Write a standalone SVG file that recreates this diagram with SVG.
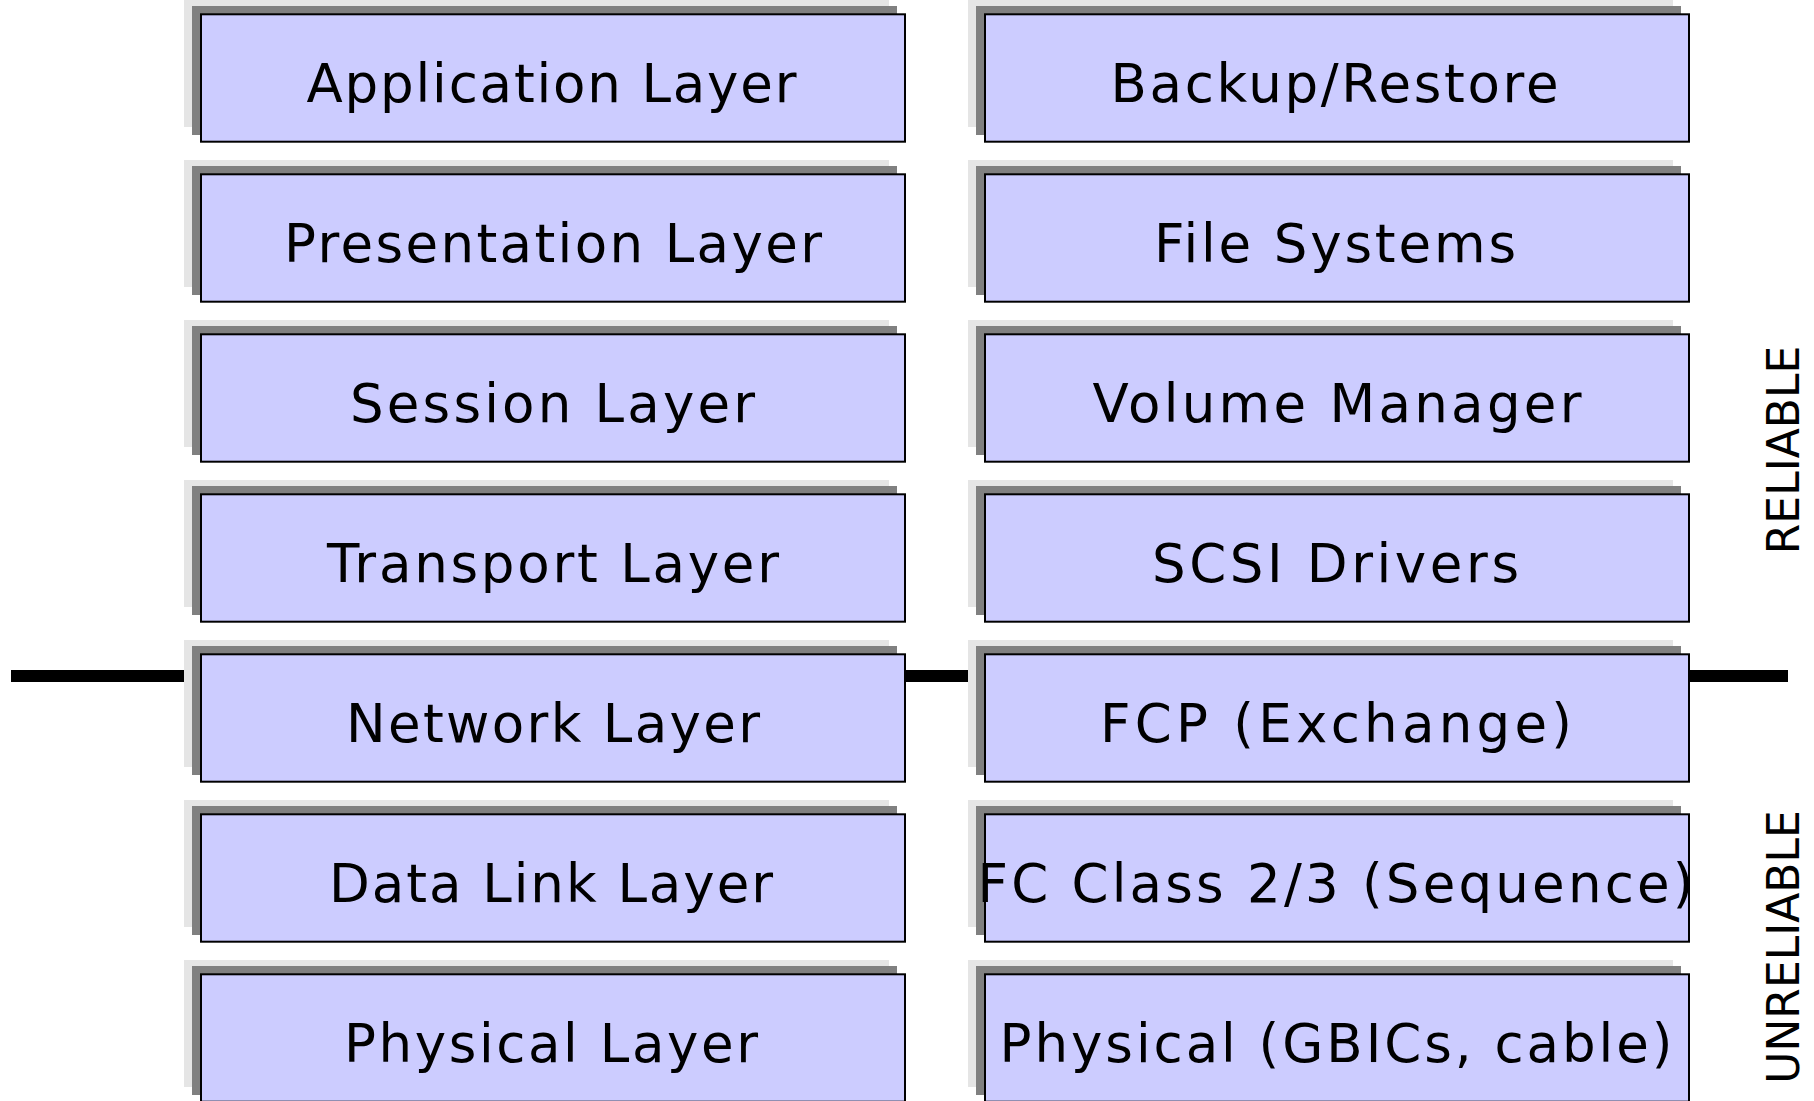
<svg xmlns="http://www.w3.org/2000/svg" width="1814" height="1101" viewBox="0 0 1814 1101">
  <style>
    .sh1 { fill: #e5e5e5; }
    .sh2 { fill: #808080; }
    .box { fill: #ccccff; stroke: #000000; stroke-width: 2; }
    .lbl { font-family: "DejaVu Sans", "Liberation Sans", sans-serif; font-size: 53px; fill: #000000; text-anchor: middle; }
    .side { font-family: "DejaVu Sans", "Liberation Sans", sans-serif; font-size: 44px; fill: #000000; text-anchor: middle; }
    .divider { stroke: #000000; stroke-width: 12; fill: none; }
  </style>
  <defs>
    <!-- layer block: two stacked shadows under a framed box, origin at block's top-left shadow -->
    <g id="block">
      <rect class="sh1" x="0" y="0" width="705" height="127"/>
      <rect class="sh2" x="8" y="6" width="705" height="129"/>
      <rect class="box" x="17" y="14.3" width="704" height="127.4"/>
    </g>
  </defs>

  <rect width="1814" height="1101" fill="#ffffff"/>

  <!-- divider between reliable and unreliable layers -->
  <g id="connectors">
    <line class="divider" x1="11" y1="676" x2="1788" y2="676"/>
  </g>

  <!-- OSI stack -->
  <g id="osi-application"><use href="#block" x="184" y="0"/><text class="lbl" x="551.5" y="102" textLength="490" lengthAdjust="spacing">Application Layer</text></g>
  <g id="osi-presentation"><use href="#block" x="184" y="160"/><text class="lbl" x="553" y="262" textLength="538" lengthAdjust="spacing">Presentation Layer</text></g>
  <g id="osi-session"><use href="#block" x="184" y="320"/><text class="lbl" x="552.5" y="422" textLength="405" lengthAdjust="spacing">Session Layer</text></g>
  <g id="osi-transport"><use href="#block" x="184" y="480"/><text class="lbl" x="553" y="582" textLength="452" lengthAdjust="spacing">Transport Layer</text></g>
  <g id="osi-network"><use href="#block" x="184" y="640"/><text class="lbl" x="553" y="742" textLength="414" lengthAdjust="spacing">Network Layer</text></g>
  <g id="osi-datalink"><use href="#block" x="184" y="800"/><text class="lbl" x="551" y="902" textLength="444" lengthAdjust="spacing">Data Link Layer</text></g>
  <g id="osi-physical"><use href="#block" x="184" y="960"/><text class="lbl" x="551" y="1062" textLength="414" lengthAdjust="spacing">Physical Layer</text></g>

  <!-- storage / Fibre Channel stack -->
  <g id="fc-backup"><use href="#block" x="968" y="0"/><text class="lbl" x="1334.5" y="102" textLength="448" lengthAdjust="spacing">Backup/Restore</text></g>
  <g id="fc-filesystems"><use href="#block" x="968" y="160"/><text class="lbl" x="1335" y="262" textLength="362" lengthAdjust="spacing">File Systems</text></g>
  <g id="fc-volume"><use href="#block" x="968" y="320"/><text class="lbl" x="1337" y="422" textLength="489" lengthAdjust="spacing">Volume Manager</text></g>
  <g id="fc-scsi"><use href="#block" x="968" y="480"/><text class="lbl" x="1335.5" y="582" textLength="367" lengthAdjust="spacing">SCSI Drivers</text></g>
  <g id="fc-fcp"><use href="#block" x="968" y="640"/><text class="lbl" x="1336" y="742" textLength="472" lengthAdjust="spacing">FCP (Exchange)</text></g>
  <g id="fc-class"><use href="#block" x="968" y="800"/><text class="lbl" x="1335.5" y="902" textLength="716" lengthAdjust="spacing">FC Class 2/3 (Sequence)</text></g>
  <g id="fc-physical"><use href="#block" x="968" y="960"/><text class="lbl" x="1336" y="1062" textLength="673" lengthAdjust="spacing">Physical (GBICs, cable)</text></g>

  <!-- side labels -->
  <g id="label-reliable"><text class="side" transform="translate(1798.5,450) rotate(-90)">RELIABLE</text></g>
  <g id="label-unreliable"><text class="side" transform="translate(1798.5,947) rotate(-90)">UNRELIABLE</text></g>
</svg>
